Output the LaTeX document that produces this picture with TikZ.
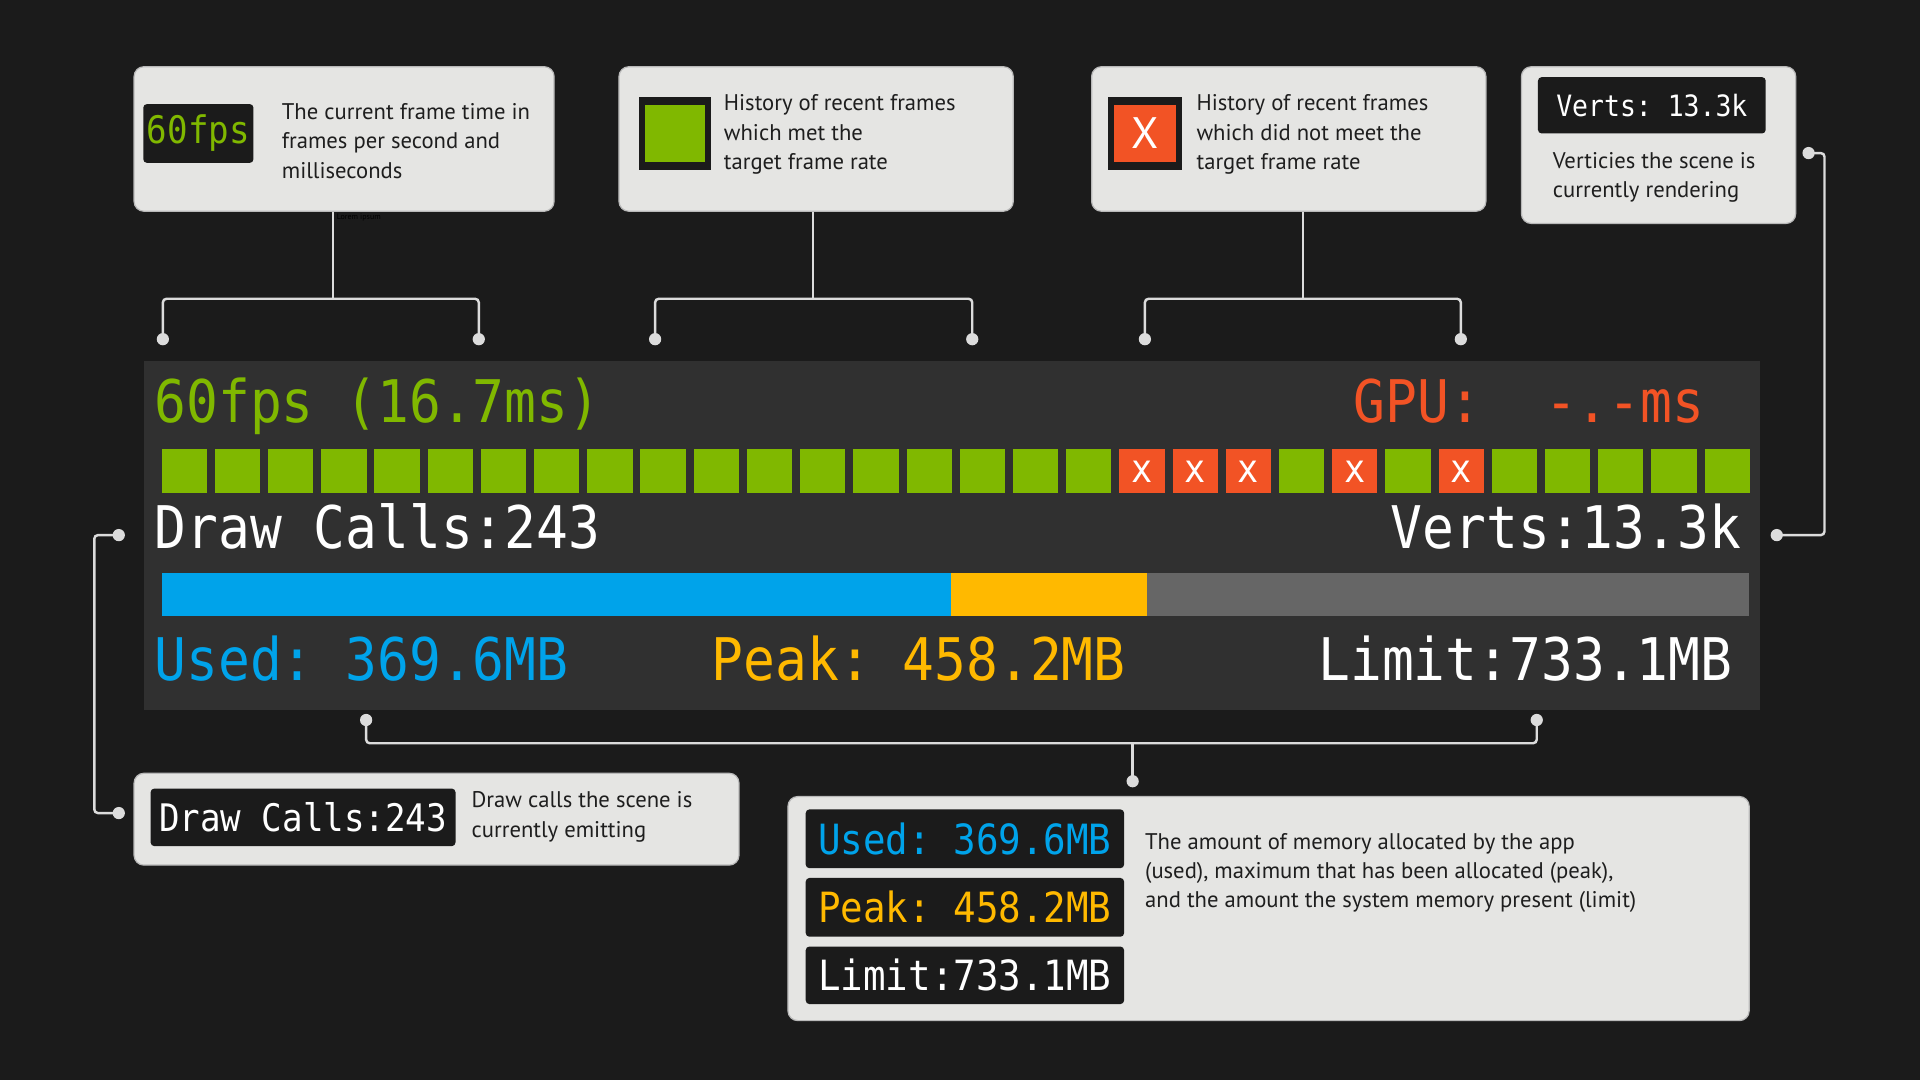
\documentclass[tikz,border=0pt]{standalone}
\usepackage{fontspec}
\setmainfont{PT Sans}
\newfontfamily\hudfont[FakeStretch=0.9]{DejaVu Sans Mono}
\usetikzlibrary{positioning,calc}
\frenchspacing
\definecolor{bg}{HTML}{1B1B1B}
\definecolor{panel}{HTML}{303030}
\definecolor{cardgrey}{HTML}{E5E5E3}
\definecolor{cardedge}{HTML}{B9B9B9}
\definecolor{wiregrey}{HTML}{DCDCDC}
\definecolor{ink}{HTML}{1E1E1E}
\definecolor{fpsgreen}{HTML}{80B800}
\definecolor{missred}{HTML}{F25325}
\definecolor{memblue}{HTML}{00A3EA}
\definecolor{memyellow}{HTML}{FFB900}
\definecolor{memgrey}{HTML}{666666}
\tikzset{
  card/.style={fill=cardgrey,draw=cardedge,line width=1,rounded corners=8,anchor=north west,inner sep=0},
  chip/.style={fill=bg,rounded corners=3,inner sep=0},
  wire/.style={draw=wiregrey,line width=2,rounded corners=3},
  dot/.style={fill=wiregrey},
  blurb/.style={anchor=west,inner sep=0,align=left,text=ink,font=\fontsize{18.5}{24}\selectfont},
  hud/.style={inner sep=0,font=\hudfont\fontsize{48}{48}\selectfont},
  frameok/.style={fill=fpsgreen,minimum width=37,minimum height=36,inner sep=0},
  framemiss/.style={fill=missred,minimum width=37,minimum height=36,inner sep=0,text=white,font=\hudfont\fontsize{32}{32}\selectfont},
}
\begin{document}
\begin{tikzpicture}[x=1pt,y=-1pt]
\fill[bg] (0,0) rectangle (1568,882);
\useasboundingbox (0,0) rectangle (1568,882);
% cards along the top
\node[card,minimum width=343,minimum height=118] (fpsCard) at (109,54) {};
\node[card,minimum width=322,minimum height=118] (hitCard) at (505,54) {};
\node[card,minimum width=322,minimum height=118] (missCard) at (891,54) {};
\node[card,minimum width=224,minimum height=128] (vertsCard) at (1242,54) {};
\node[chip,minimum width=90,minimum height=48,text=fpsgreen,font=\hudfont\fontsize{31}{31}\selectfont] (fpsChip) at (162,109) {60fps};
\node[blurb] (fpsNote) at (230,115) {The current frame time in\\frames per second and\\milliseconds};
\node[anchor=west,inner sep=0,text=black,font=\fontsize{6.5}{7}\selectfont] (lorem) at (275,178) {Lorem ipsum};
\node[fill=bg,minimum width=59,minimum height=60,inner sep=0] (hitIcon) at (551.5,109) {};
\node[fill=fpsgreen,minimum width=49,minimum height=47,inner sep=0] (hitSwatch) at (hitIcon) {};
\node[blurb] (hitNote) at (591,110) {History of recent frames\\which met the\\target frame rate};
\node[fill=bg,minimum width=60,minimum height=60,inner sep=0] (missIcon) at (935,109) {};
\node[fill=missred,minimum width=50,minimum height=47,inner sep=0,text=white,font=\fontsize{36}{36}\selectfont] (missSwatch) at (missIcon) {X};
\node[blurb] (missNote) at (977,110) {History of recent frames\\which did not meet the\\target frame rate};
\node[chip,minimum width=186,minimum height=46,text=white,font=\hudfont\fontsize{24}{24}\selectfont] (vertsChip) at (1349,86) {Verts: 13.3k};
\node[blurb] (vertsNote) at (1268,145) {Verticies the scene is\\currently rendering};
% the overlay itself
\node[fill=panel,minimum width=1320,minimum height=285,anchor=north west,inner sep=0] (hud) at (117,295) {};
\node[hud,text=fpsgreen,anchor=base west] (fpsText) at (126,345) {60fps (16.7ms)};
\node[hud,text=missred,anchor=base east] (gpuText) at (1392,345) {GPU:\ \ -.-ms};
\foreach \i in {0,...,29}
  \node[frameok] (fr\i) at ({150.5+\i*43.45},385) {};
\foreach \i in {18,19,20,22,24}
  \node[framemiss] (miss\i) at (fr\i) {x};
\node[hud,text=white,anchor=base west] (drawText) at (126,448) {Draw Calls:243};
\node[hud,text=white,anchor=base east] (vertText) at (1422,448) {Verts:13.3k};
\fill[memblue] (132,468) rectangle (777,503);
\fill[memyellow] (777,468) rectangle (937,503);
\fill[memgrey] (937,468) rectangle (1428,503);
\node[hud,text=memblue,anchor=base west] (usedText) at (126,556) {Used: 369.6MB};
\node[hud,text=memyellow,anchor=base west] (peakText) at (581,556) {Peak: 458.2MB};
\node[hud,text=white,anchor=base east] (limitText) at (1415,556) {Limit:733.1MB};
% cards along the bottom
\node[card,minimum width=494,minimum height=75] (drawCard) at (109,631) {};
\node[chip,minimum width=249,minimum height=47,text=white,font=\hudfont\fontsize{31}{31}\selectfont] (drawChip) at (247.5,667.5) {Draw Calls:243};
\node[blurb] (drawNote) at (385,667) {Draw calls the scene is\\currently emitting};
\node[card,minimum width=785,minimum height=183] (memCard) at (643,650) {};
\node[chip,minimum width=260,minimum height=48,text=memblue,font=\hudfont\fontsize{34}{34}\selectfont] (usedChip) at (788,685) {Used: 369.6MB};
\node[chip,minimum width=260,minimum height=48,text=memyellow,font=\hudfont\fontsize{34}{34}\selectfont] (peakChip) at (788,741) {Peak: 458.2MB};
\node[chip,minimum width=260,minimum height=47,text=white,font=\hudfont\fontsize{34}{34}\selectfont] (limitChip) at (788,796.5) {Limit:733.1MB};
\node[blurb] (memNote) at (935,713) {The amount of memory allocated by the app\\(used), maximum that has been allocated (peak),\\and the amount the system memory present (limit)};
% brackets
\foreach \n/\xa/\xm/\xb in {fps/133/272/391,hit/535/664/794,miss/935/1064/1193}{
  \coordinate (\n L) at (\xa,277);
  \coordinate (\n R) at (\xb,277);
  \coordinate (\n J) at (\xm,244);
  \draw[wire] (\n L) |- (\n J) -| (\n R);
  \draw[wire] (\n J) -- (\n J |- \n Card.south);
  \fill[dot] (\n L) circle (5) (\n R) circle (5);
}
\coordinate (vertsDot) at (1451,437);
\coordinate (vertsCardDot) at (1477,125);
\draw[wire] (vertsCardDot) -| (1490,437) -- (vertsDot);
\fill[dot] (vertsDot) circle (5) (vertsCardDot) circle (5);
\coordinate (drawDot) at (97,437);
\coordinate (drawCardDot) at (97,664);
\draw[wire] (drawDot) -- ++(-20,0) |- (drawCardDot);
\fill[dot] (drawDot) circle (5) (drawCardDot) circle (5);
\coordinate (usedDot) at (299,588);
\coordinate (limitDot) at (1255,588);
\coordinate (memJoin) at (925,607);
\coordinate (memDot) at (925,638);
\draw[wire] (usedDot) |- (memJoin) -| (limitDot);
\draw[wire] (memJoin) -- (memDot);
\fill[dot] (usedDot) circle (5) (limitDot) circle (5) (memDot) circle (5);
\end{tikzpicture}
\end{document}
